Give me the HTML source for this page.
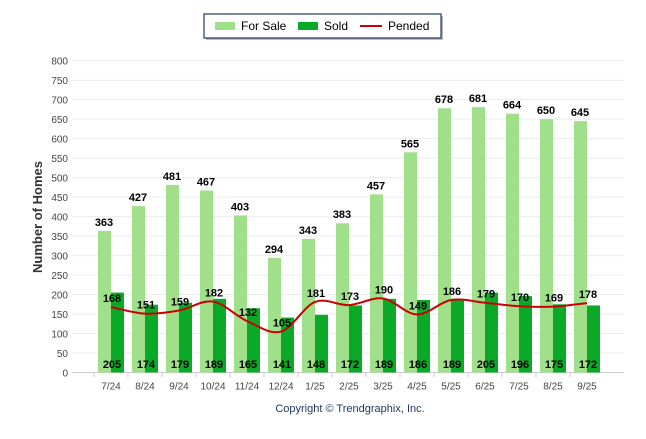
<!DOCTYPE html>
<html><head><meta charset="utf-8"><style>
body{margin:0;background:#fff;width:646px;height:434px;overflow:hidden;font-family:"Liberation Sans",sans-serif}
</style></head><body>
<svg id="c" width="646" height="434" xmlns="http://www.w3.org/2000/svg">
<g>
<rect x="206" y="16" width="237" height="24" fill="#bbb"/>
<rect x="204" y="14" width="237" height="24" fill="#fff" stroke="#1f3864" stroke-width="1.2"/>
<rect x="215" y="22" width="20" height="8" fill="#a0e08a"/>
<text x="241" y="30" font-size="12" fill="#000">For Sale</text>
<rect x="298" y="22" width="20" height="8" fill="#0aaa28"/>
<text x="324" y="30" font-size="12" fill="#000">Sold</text>
<line x1="360" y1="26" x2="382" y2="26" stroke="#cc0000" stroke-width="2"/>
<text x="388" y="30" font-size="12" fill="#000">Pended</text>
</g>
<text transform="translate(42,217) rotate(-90)" text-anchor="middle" font-size="13" font-weight="bold" fill="#333">Number of Homes</text>
<text x="350" y="412" text-anchor="middle" font-size="11" fill="#1f3864">Copyright © Trendgraphix, Inc.</text>
<g id="grid"></g><g id="bars"></g><g id="line"></g><g id="labels"></g>
</svg>
<script>
const categories=["7/24","8/24","9/24","10/24","11/24","12/24","1/25","2/25","3/25","4/25","5/25","6/25","7/25","8/25","9/25"];
const forSale=[363,427,481,467,403,294,343,383,457,565,678,681,664,650,645];
const sold=[205,174,179,189,165,141,148,172,189,186,189,205,196,175,172];
const pended=[168,151,159,182,132,105,181,173,190,149,186,179,170,169,178];
const yTicks=[0,50,100,150,200,250,300,350,400,450,500,550,600,650,700,750,800];
const NS="http://www.w3.org/2000/svg";
const y0=372.5,y1=60.7;
function y(v){return y0-(v/800)*(y0-y1);}
function xc(i){return 111+34*i;}
function mk(tag,attrs,parent,txt){const e=document.createElementNS(NS,tag);for(const k in attrs)e.setAttribute(k,attrs[k]);if(txt!==undefined)e.textContent=txt;document.getElementById(parent).appendChild(e);return e;}
yTicks.forEach(t=>{
 const g=mk('line',{x1:72,x2:624,y1:y(t),y2:y(t),stroke:t===0?'#ccc':'#ebebeb','stroke-width':1},'grid');
 
 
 const l=mk('text',{x:68,y:y(t)+4,'text-anchor':'end','font-size':10,fill:'#444'},'grid',t);
 
 
});
categories.forEach((c,i)=>{
 const tk=mk('line',{x1:xc(i)-17,x2:xc(i)-17,y1:y0,y2:y0+5,stroke:'#ccc'},'grid');
 
 
 const l=mk('text',{x:xc(i),y:y0+17,'text-anchor':'middle','font-size':10,fill:'#444'},'grid',c);
 
 
 const b1=mk('rect',{x:xc(i)-13,y:y(forSale[i]),width:13,height:y0-y(forSale[i]),fill:'#a0e08a'},'bars');
 
 
 const b2=mk('rect',{x:xc(i),y:y(sold[i]),width:13,height:y0-y(sold[i]),fill:'#0aaa28'},'bars');
 
 
 const t1=mk('text',{x:xc(i)-7,y:y(forSale[i])-5,'text-anchor':'middle','font-size':11,'font-weight':'bold',fill:'#000'},'labels',forSale[i]);
 
 
 const t2=mk('text',{x:xc(i)+1,y:368,'text-anchor':'middle','font-size':11,'font-weight':'bold',fill:'#000'},'labels',sold[i]);
 
 
 const t3=mk('text',{x:xc(i)+1,y:y(pended[i])-5,'text-anchor':'middle','font-size':11,'font-weight':'bold',fill:'#000'},'labels',pended[i]);
 
 
});
const pts=pended.map((v,i)=>[xc(i),y(v)]);
let d=`M${pts[0][0]},${pts[0][1]}`;
for(let i=0;i<pts.length-1;i++){
 const p0=pts[i-1]||pts[i],p1=pts[i],p2=pts[i+1],p3=pts[i+2]||p2;
 const c1=[p1[0]+(p2[0]-p0[0])/6,p1[1]+(p2[1]-p0[1])/6];
 const c2=[p2[0]-(p3[0]-p1[0])/6,p2[1]-(p3[1]-p1[1])/6];
 d+=` C${c1[0]},${c1[1]} ${c2[0]},${c2[1]} ${p2[0]},${p2[1]}`;
}
const ln=mk('path',{d:d,fill:'none',stroke:'#cc0000','stroke-width':2},'line');


</script>
</body></html>
